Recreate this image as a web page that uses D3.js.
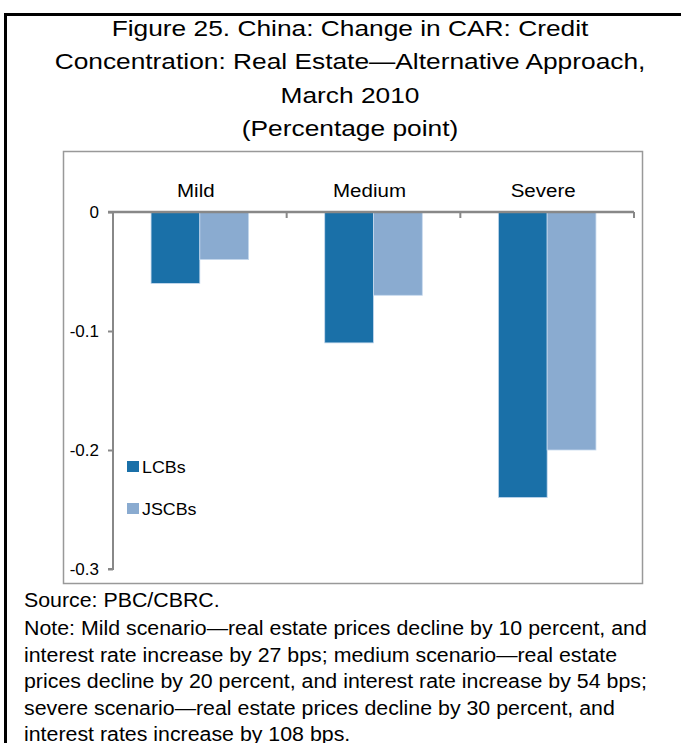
<!DOCTYPE html>
<html>
<head>
<meta charset="utf-8">
<script src="https://cdn.jsdelivr.net/npm/d3@7"></script>
<style>
body{margin:0;background:#fff;}
svg text{font-family:"Liberation Sans",Arial,sans-serif;fill:#000;}
</style>
</head>
<body>
<div id="chart"></div>
<script>
var categories = ["Mild", "Medium", "Severe"];
var seriesNames = ["LCBs", "JSCBs"];
var lcbs = [-0.06, -0.11, -0.24];
var jscbs = [-0.04, -0.07, -0.20];
var yTicks = [0, -0.1, -0.2, -0.3];
var titleLines = ["Figure 25. China: Change in CAR: Credit",
  "Concentration: Real Estate\u2014Alternative Approach,",
  "March 2010", "(Percentage point)"];
var noteLines = ["Source: PBC/CBRC.",
  "Note: Mild scenario\u2014real estate prices decline by 10 percent, and",
  "interest rate increase by 27 bps; medium scenario\u2014real estate",
  "prices decline by 20 percent, and interest rate increase by 54 bps;",
  "severe scenario\u2014real estate prices decline by 30 percent, and",
  "interest rates increase by 108 bps."];

var colors = ["#1a70a8", "#8aabd0"];

var W = 681, H = 743;
var svg = d3.select("#chart").append("svg")
  .attr("width", W).attr("height", H);

// text in the picture is a bit wider than plain Arial, so stretch it
function stretched(sel, sx) {
  sel.each(function() {
    var t = d3.select(this);
    var x = +t.attr("x"), y = +t.attr("y");
    t.attr("x", 0).attr("y", 0)
      .attr("transform", "translate(" + x + "," + y + ") scale(" + sx + ",1)");
  });
}

// outer frame
svg.append("path")
  .attr("d", "M5.5," + H + " L5.5,14.5 L" + W + ",14.5")
  .attr("fill", "none").attr("stroke", "#000").attr("stroke-width", 3);

// title
svg.selectAll(".title").data(titleLines).enter()
  .append("text")
  .attr("x", 350)
  .attr("y", (d, i) => 36 + i * 33.4)
  .attr("text-anchor", "middle")
  .style("font-size", "22.5px")
  .text(d => d)
  .call(stretched, 1.17);

// inner chart box
svg.append("rect")
  .attr("x", 63.5).attr("y", 151.5)
  .attr("width", 579).attr("height", 432)
  .attr("fill", "none").attr("stroke", "#999").attr("stroke-width", 1.5);

var x0 = d3.scaleBand().domain(categories).range([113, 634]).paddingInner(0).paddingOuter(0);
var x1 = d3.scaleBand().domain(seriesNames).range([0, x0.bandwidth()]).paddingInner(0).paddingOuter(0.78);
var y = d3.scaleLinear().domain([-0.3, 0]).range([569, 212]);

var data = categories.map((c, i) => ({cat: c, vals: [
  {name: "LCBs", v: lcbs[i]}, {name: "JSCBs", v: jscbs[i]}]}));

var groups = svg.append("g").selectAll("g").data(data).enter()
  .append("g")
  .attr("transform", d => "translate(" + x0(d.cat) + ",0)");

groups.selectAll("rect").data(d => d.vals).enter()
  .append("rect")
  .attr("x", d => x1(d.name))
  .attr("y", y(0))
  .attr("width", x1.bandwidth())
  .attr("height", d => y(d.v) - y(0))
  .attr("fill", (d, i) => colors[i])
  .attr("stroke", "#c6d9ee").attr("stroke-width", 0.8);

// y axis
var yAxis = d3.axisLeft(y).tickValues(yTicks)
  .tickFormat(d => d === 0 ? "0" : d3.format(".1f")(d).replace("\u2212", "-"))
  .tickSize(5).tickPadding(9);
var gy = svg.append("g").attr("transform", "translate(113,0)").call(yAxis);
gy.select(".domain").attr("stroke", "#888").attr("stroke-width", 2)
  .attr("d", "M-5," + y(-0.3) + "H0V" + y(0));
gy.selectAll(".tick line").attr("stroke", "#888").attr("stroke-width", 2);
gy.selectAll(".tick text").style("font-size", "17px").attr("fill", "#000")
  .style("font-family", "Liberation Sans, Arial, sans-serif");

// x axis at zero
var xAxis = d3.axisBottom(x0).tickSize(0).tickFormat("");
var gx = svg.append("g").attr("transform", "translate(0," + y(0) + ")").call(xAxis);
gx.select(".domain").attr("stroke", "#888").attr("stroke-width", 2.5)
  .attr("d", "M108,0H634");
var bounds = categories.map(c => x0(c) + x0.bandwidth());
gx.selectAll(".bnd").data(bounds).enter()
  .append("line")
  .attr("x1", d => d).attr("x2", d => d)
  .attr("y1", 0).attr("y2", 6)
  .attr("stroke", "#888").attr("stroke-width", 2);

// category labels above axis
svg.selectAll(".cat").data(categories).enter()
  .append("text")
  .attr("x", d => x0(d) + x0.bandwidth() / 2 - 4)
  .attr("y", 197)
  .attr("text-anchor", "middle")
  .style("font-size", "19px")
  .text(d => d)
  .call(stretched, 1.08);

// legend
var leg = svg.append("g").selectAll("g").data(seriesNames).enter()
  .append("g")
  .attr("transform", (d, i) => "translate(127," + (461 + i * 42) + ")");
leg.append("rect").attr("width", 12).attr("height", 11)
  .attr("fill", (d, i) => colors[i]);
leg.append("text").attr("x", 15).attr("y", 12)
  .style("font-size", "17px").text(d => d)
  .call(stretched, 1.05);

// source and notes
svg.selectAll(".note").data(noteLines).enter()
  .append("text")
  .attr("x", 24)
  .attr("y", (d, i) => i === 0 ? 607 : 635 + (i - 1) * 26.6)
  .style("font-size", "19.5px")
  .text(d => d)
  .call(stretched, 1.095);
</script>
</body>
</html>
